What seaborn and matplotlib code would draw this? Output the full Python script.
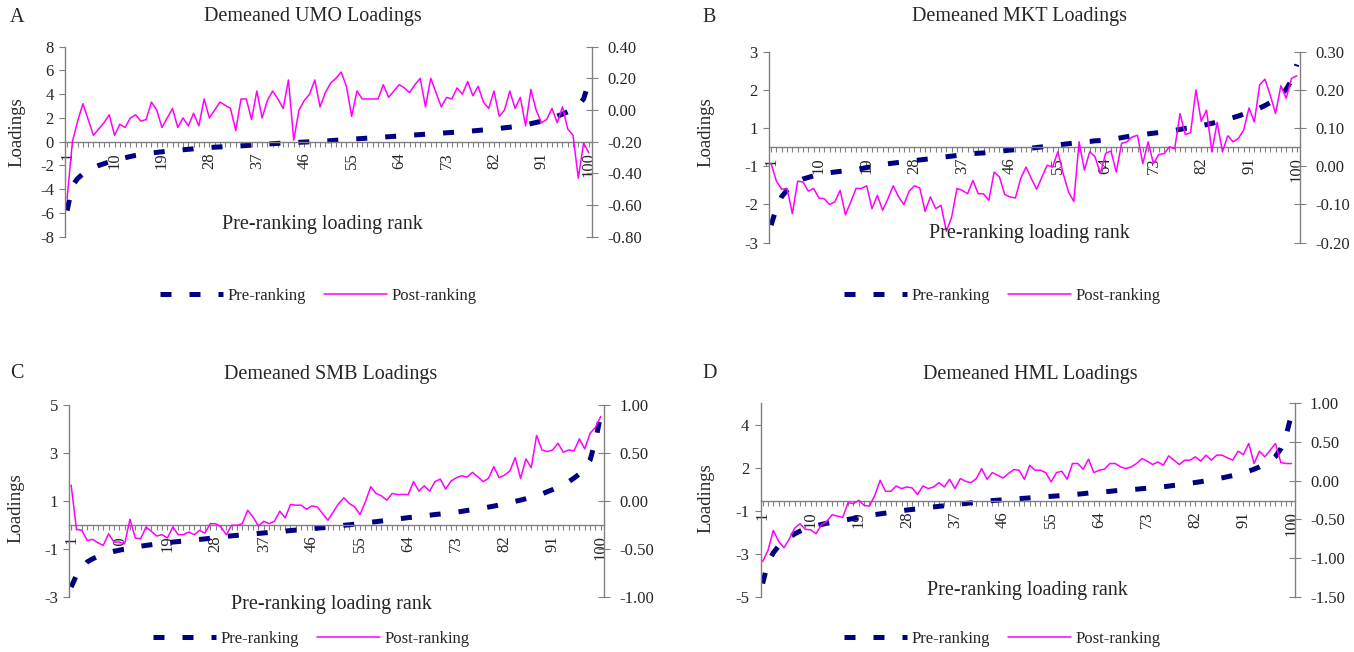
import matplotlib
matplotlib.use("Agg")
import matplotlib.pyplot as plt
import seaborn as sns
from matplotlib.ticker import FixedLocator, FuncFormatter

# ---------------- data ----------------
ranks = list(range(1, 101))
x_tick_labels = [1, 10, 19, 28, 37, 46, 55, 64, 73, 82, 91, 100]

umo_pre = [-5.8, -3.7, -3.1, -2.7, -2.4, -2.2, -2.0, -1.85, -1.7, -1.6,
           -1.5, -1.35, -1.25, -1.15, -1.08, -1.0, -0.95, -0.9, -0.85, -0.8,
           -0.76, -0.72, -0.68, -0.64, -0.6, -0.56, -0.52, -0.49, -0.46, -0.44,
           -0.42, -0.4, -0.38, -0.35, -0.32, -0.29, -0.26, -0.23, -0.2, -0.17,
           -0.14, -0.12, -0.1, -0.08, -0.05, -0.03, -0.01, 0.01, 0.03, 0.06,
           0.09, 0.12, 0.15, 0.18, 0.21, 0.24, 0.27, 0.3, 0.33, 0.36,
           0.39, 0.42, 0.45, 0.48, 0.51, 0.54, 0.57, 0.6, 0.63, 0.66,
           0.69, 0.72, 0.75, 0.78, 0.81, 0.84, 0.87, 0.91, 0.95, 0.99,
           1.03, 1.07, 1.12, 1.17, 1.22, 1.28, 1.35, 1.43, 1.52, 1.62,
           1.73, 1.86, 2.0, 2.15, 2.32, 2.52, 2.75, 3.05, 3.6, 5.0]
umo_post = [-0.56, -0.20, -0.07, 0.04, -0.06, -0.16, -0.12, -0.08, -0.03, -0.16,
            -0.09, -0.11, -0.05, -0.03, -0.07, -0.06, 0.05, 0.00, -0.11, -0.05,
            0.01, -0.11, -0.05, -0.10, -0.02, -0.10, 0.07, -0.05, 0.00, 0.05,
            0.03, 0.01, -0.13, 0.07, 0.07, -0.06, 0.12, -0.05, 0.06, 0.12,
            0.07, 0.01, 0.19, -0.19, 0.00, 0.06, 0.10, 0.19, 0.02, 0.11,
            0.17, 0.20, 0.24, 0.15, -0.04, 0.12, 0.07, 0.07, 0.07, 0.07,
            0.16, 0.08, 0.12, 0.16, 0.14, 0.11, 0.16, 0.20, 0.02, 0.20,
            0.11, 0.02, 0.08, 0.07, 0.14, 0.10, 0.18, 0.09, 0.15, 0.05,
            0.01, 0.12, -0.04, 0.00, 0.12, 0.01, 0.08, -0.10, 0.13, 0.00,
            -0.08, -0.06, 0.01, -0.08, 0.02, -0.12, -0.16, -0.43, -0.21, -0.27]

mkt_pre = [-2.45, -1.9, -1.55, -1.35, -1.2, -1.08, -1.0, -0.95, -0.9, -0.86,
           -0.83, -0.8, -0.78, -0.76, -0.74, -0.72, -0.7, -0.67, -0.64, -0.61,
           -0.58, -0.55, -0.52, -0.5, -0.48, -0.46, -0.44, -0.42, -0.4, -0.38,
           -0.36, -0.34, -0.32, -0.3, -0.28, -0.26, -0.24, -0.22, -0.2, -0.19,
           -0.18, -0.16, -0.15, -0.13, -0.11, -0.09, -0.08, -0.06, -0.05, -0.03,
           -0.01, 0.01, 0.03, 0.05, 0.07, 0.09, 0.11, 0.13, 0.15, 0.17,
           0.18, 0.2, 0.21, 0.23, 0.25, 0.27, 0.3, 0.33, 0.36, 0.38,
           0.4, 0.42, 0.44, 0.46, 0.48, 0.5, 0.53, 0.56, 0.59, 0.61,
           0.64, 0.67, 0.71, 0.75, 0.79, 0.83, 0.88, 0.93, 0.98, 1.04,
           1.1, 1.16, 1.23, 1.31, 1.4, 1.5, 1.63, 1.82, 2.1, 2.6]
mkt_post = [0.007, -0.039, -0.06, -0.058, -0.124, -0.039, -0.041, -0.065, -0.058, -0.083,
            -0.085, -0.10, -0.093, -0.063, -0.127, -0.093, -0.058, -0.058, -0.051, -0.111,
            -0.076, -0.115, -0.085, -0.051, -0.08, -0.10, -0.065, -0.051, -0.057, -0.118,
            -0.08, -0.111, -0.102, -0.17, -0.133, -0.058, -0.063, -0.072, -0.037, -0.072,
            -0.072, -0.089, -0.015, -0.028, -0.074, -0.08, -0.083, -0.032, -0.002, -0.032,
            -0.06, -0.028, 0.003, -0.002, 0.038, -0.019, -0.067, -0.092, 0.064, -0.01,
            0.038, 0.025, -0.019, 0.034, 0.04, -0.015, 0.06, 0.064, 0.077, 0.081,
            0.007, 0.064, 0.007, 0.031, 0.033, 0.051, 0.046, 0.138, 0.083, 0.088,
            0.20, 0.118, 0.147, 0.038, 0.115, 0.038, 0.08, 0.064, 0.073, 0.095,
            0.153, 0.116, 0.213, 0.228, 0.186, 0.138, 0.211, 0.178, 0.23, 0.237]

smb_pre = [-2.6, -2.1, -1.8, -1.55, -1.42, -1.32, -1.24, -1.17, -1.11, -1.06,
           -1.01, -0.97, -0.93, -0.89, -0.86, -0.83, -0.8, -0.77, -0.75, -0.72,
           -0.7, -0.68, -0.66, -0.63, -0.61, -0.59, -0.56, -0.54, -0.51, -0.48,
           -0.46, -0.44, -0.42, -0.4, -0.38, -0.36, -0.34, -0.32, -0.3, -0.28,
           -0.26, -0.24, -0.22, -0.2, -0.18, -0.16, -0.14, -0.12, -0.1, -0.07,
           -0.05, -0.02, 0.0, 0.03, 0.06, 0.08, 0.11, 0.13, 0.16, 0.19,
           0.21, 0.24, 0.27, 0.3, 0.32, 0.35, 0.38, 0.4, 0.43, 0.45,
           0.48, 0.5, 0.53, 0.56, 0.6, 0.63, 0.67, 0.7, 0.74, 0.78,
           0.83, 0.88, 0.93, 0.98, 1.03, 1.09, 1.15, 1.21, 1.29, 1.38,
           1.47, 1.57, 1.68, 1.8, 1.95, 2.12, 2.35, 2.7, 3.5, 4.6]
smb_post = [0.164, -0.297, -0.308, -0.413, -0.402, -0.437, -0.465, -0.343, -0.43, -0.43,
            -0.448, -0.192, -0.388, -0.395, -0.273, -0.318, -0.367, -0.353, -0.388, -0.273,
            -0.353, -0.353, -0.325, -0.353, -0.308, -0.336, -0.238, -0.238, -0.273, -0.353,
            -0.255, -0.255, -0.238, -0.098, -0.168, -0.262, -0.213, -0.238, -0.213, -0.108,
            -0.178, -0.038, -0.045, -0.045, -0.087, -0.052, -0.063, -0.133, -0.203, -0.115,
            -0.028, 0.031, -0.028, -0.063, -0.143, -0.01, 0.147, 0.077, 0.052, 0.007,
            0.077, 0.066, 0.066, 0.066, 0.20, 0.101, 0.157, 0.101, 0.20, 0.227,
            0.122, 0.206, 0.241, 0.262, 0.248, 0.297, 0.252, 0.20, 0.234, 0.357,
            0.241, 0.269, 0.311, 0.451, 0.234, 0.437, 0.346, 0.682, 0.531, 0.514,
            0.531, 0.601, 0.507, 0.531, 0.521, 0.647, 0.542, 0.706, 0.766, 0.881]

hml_pre = [-4.3, -3.2, -2.7, -2.35, -2.1, -1.9, -1.72, -1.58, -1.47, -1.38,
           -1.3, -1.23, -1.17, -1.12, -1.07, -1.02, -0.97, -0.92, -0.87, -0.82,
           -0.77, -0.72, -0.68, -0.64, -0.6, -0.56, -0.52, -0.48, -0.45, -0.42,
           -0.38, -0.35, -0.32, -0.29, -0.26, -0.23, -0.2, -0.17, -0.14, -0.11,
           -0.08, -0.05, -0.02, 0.01, 0.03, 0.05, 0.07, 0.09, 0.11, 0.13,
           0.15, 0.17, 0.19, 0.21, 0.23, 0.25, 0.27, 0.29, 0.31, 0.34,
           0.37, 0.4, 0.42, 0.45, 0.47, 0.49, 0.52, 0.54, 0.56, 0.58,
           0.6, 0.63, 0.65, 0.67, 0.7, 0.73, 0.76, 0.8, 0.83, 0.87,
           0.91, 0.95, 0.99, 1.04, 1.09, 1.14, 1.19, 1.25, 1.31, 1.38,
           1.45, 1.54, 1.64, 1.76, 1.9, 2.07, 2.3, 2.7, 3.4, 4.5]
hml_post = [-1.043, -0.90, -0.642, -0.784, -0.866, -0.75, -0.612, -0.556, -0.629, -0.634,
            -0.685, -0.569, -0.526, -0.44, -0.457, -0.474, -0.284, -0.297, -0.254, -0.319,
            -0.328, -0.19, 0.004, -0.138, -0.138, -0.069, -0.103, -0.082, -0.095, -0.181,
            -0.069, -0.103, -0.082, -0.026, -0.082, 0.017, -0.103, 0.026, -0.009, -0.026,
            0.026, 0.155, 0.017, 0.103, 0.069, 0.034, 0.091, 0.142, 0.134, 0.017,
            0.198, 0.134, 0.134, 0.103, -0.017, 0.103, 0.121, 0.017, 0.22, 0.22,
            0.147, 0.276, 0.103, 0.134, 0.147, 0.22, 0.22, 0.177, 0.155, 0.177,
            0.22, 0.284, 0.25, 0.207, 0.241, 0.198, 0.319, 0.263, 0.207, 0.263,
            0.263, 0.306, 0.25, 0.328, 0.263, 0.328, 0.328, 0.293, 0.263, 0.379,
            0.336, 0.478, 0.22, 0.379, 0.306, 0.392, 0.478, 0.233, 0.22, 0.22]

panel_letters = ["A", "B", "C", "D"]
panel_titles = ["Demeaned UMO Loadings", "Demeaned MKT Loadings",
                "Demeaned SMB Loadings", "Demeaned HML Loadings"]
left_ticks = [[-8, -6, -4, -2, 0, 2, 4, 6, 8],
              [-3, -1.8, -0.6, 0.6, 1.8, 3],
              [-3, -1, 1, 3, 5],
              [-5, -2.76, -0.52, 1.72, 3.96]]
right_ticks = [[-0.8, -0.6, -0.4, -0.2, 0.0, 0.2, 0.4],
               [-0.2, -0.1, 0.0, 0.1, 0.2, 0.3],
               [-1.0, -0.5, 0.0, 0.5, 1.0],
               [-1.5, -1.0, -0.5, 0.0, 0.5, 1.0]]
pre_series = [umo_pre, mkt_pre, smb_pre, hml_pre]
post_series = [umo_post, mkt_post, smb_post, hml_post]
series_names = ["Pre-ranking", "Post-ranking"]
y_label = "Loadings"
x_label = "Pre-ranking loading rank"

# ---------------- style / layout ----------------
sns.set_style("white")
plt.rcParams["font.family"] = ["Liberation Serif", "DejaVu Serif"]
plt.rcParams["axes.unicode_minus"] = False

W, H = 1354, 652
NAVY = "#000080"
MAGENTA = "#FF00FF"
GRAY = "#808080"

# pixel layout per panel
layout = [
    dict(l=65, r=592, t=46.7, b=236.7, ylim=(-8, 8), ylim2=(-0.8, 0.4),
         letter=(17, 17), title=(313, 16), xl=(322, 224), yl=(17, 132), leg=(318, 296)),
    dict(l=769, r=1300, t=51.7, b=242.7, ylim=(-3, 3), ylim2=(-0.2, 0.3),
         letter=(709, 17), title=(1020, 16), xl=(1029, 233), yl=(706, 132), leg=(1002, 296)),
    dict(l=69, r=604, t=405, b=596.7, ylim=(-3, 5), ylim2=(-1.0, 1.0),
         letter=(17, 373), title=(331, 375), xl=(331, 604), yl=(16, 508), leg=(311, 639)),
    dict(l=760.5, r=1294.7, t=403, b=597, ylim=(-5, 5.08), ylim2=(-1.5, 1.0),
         letter=(710, 373), title=(1030, 374), xl=(1027, 590), yl=(706, 498), leg=(1002, 639)),
]

fig = plt.figure(figsize=(W / 100, H / 100), dpi=100)
fig.patch.set_facecolor("white")

for i in range(4):
    L = layout[i]
    rect = [L["l"] / W, 1 - L["b"] / H, (L["r"] - L["l"]) / W, (L["b"] - L["t"]) / H]
    ax = fig.add_axes(rect)
    ax2 = ax.twinx()

    sns.lineplot(x=ranks, y=pre_series[i], ax=ax, color=NAVY, linewidth=3.6,
                 legend=False, label=series_names[0])
    pre_line = ax.lines[-1]
    pre_line.set_dashes([2.2, 3.6])
    pre_line.set_dash_capstyle("butt")
    sns.lineplot(x=ranks, y=post_series[i], ax=ax2, color=MAGENTA, linewidth=1.1,
                 legend=False, label=series_names[1])
    post_line = ax2.lines[-1]
    if ax.get_legend():
        ax.get_legend().remove()
    if ax2.get_legend():
        ax2.get_legend().remove()

    ax.set_xlim(0.6, 100.6)
    ax.set_ylim(*L["ylim"])
    ax2.set_ylim(*L["ylim2"])
    ax.set_xlabel("")
    ax.set_ylabel("")
    ax2.set_ylabel("")
    ax.grid(False)
    ax2.grid(False)

    # spines
    for s in ["top", "right"]:
        ax.spines[s].set_visible(False)
    for s in ["top", "left", "bottom"]:
        ax2.spines[s].set_visible(False)
    ax.spines["bottom"].set_position(("data", 0))
    ax.spines["bottom"].set_color(GRAY)
    ax.spines["left"].set_color(GRAY)
    ax2.spines["right"].set_color(GRAY)
    for sp in [ax.spines["bottom"], ax.spines["left"], ax2.spines["right"]]:
        sp.set_linewidth(1.0)

    # x ticks
    ax.set_xticks(ranks)
    ax.set_xticklabels([str(r) if r in x_tick_labels else "" for r in ranks])
    ax.tick_params(axis="x", direction="out", length=3.5, width=0.8, color=GRAY,
                   pad=4, labelsize=12, labelrotation=90, bottom=True)

    # left y ticks
    ax.yaxis.set_major_locator(FixedLocator(left_ticks[i]))
    ax.yaxis.set_major_formatter(FuncFormatter(lambda v, p: f"{v:.0f}"))
    ax.tick_params(axis="y", direction="out", length=4, width=0.8, color=GRAY,
                   pad=4, labelsize=12, left=True)

    # right y ticks
    ax2.yaxis.set_major_locator(FixedLocator(right_ticks[i]))
    ax2.yaxis.set_major_formatter(FuncFormatter(lambda v, p: f"{v:.2f}"))
    ax2.tick_params(axis="y", direction="inout", length=8, width=0.8, color=GRAY,
                    pad=7, labelsize=12, right=True)

    # texts
    fig.text(L["letter"][0] / W, 1 - L["letter"][1] / H, panel_letters[i],
             fontsize=14.5, ha="center", va="center")
    fig.text(L["title"][0] / W, 1 - L["title"][1] / H, panel_titles[i],
             fontsize=14.5, ha="center", va="center")
    fig.text(L["xl"][0] / W, 1 - L["xl"][1] / H, x_label,
             fontsize=14.5, ha="center", va="center")
    fig.text(L["yl"][0] / W, 1 - L["yl"][1] / H, y_label,
             fontsize=13.5, ha="center", va="center", rotation=90)

    fig.legend([pre_line, post_line], series_names, loc="center",
               bbox_to_anchor=(L["leg"][0] / W, 1 - L["leg"][1] / H),
               ncol=2, frameon=False, fontsize=12, handlelength=3.8,
               handletextpad=0.25, columnspacing=1.1, borderaxespad=0)

fig.savefig("out.png", dpi=100, facecolor="white")
